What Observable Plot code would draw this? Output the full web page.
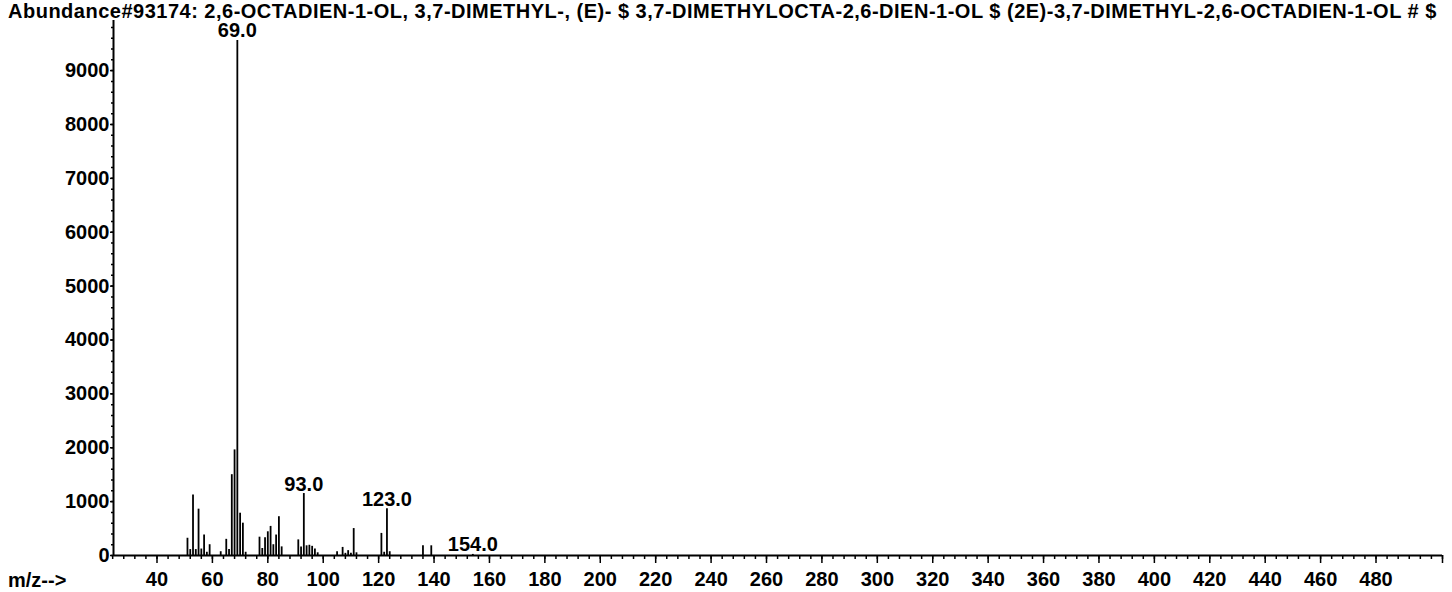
<!DOCTYPE html>
<html>
<head>
<meta charset="utf-8">
<script src="https://cdn.jsdelivr.net/npm/d3@7"></script>
<script src="https://cdn.jsdelivr.net/npm/@observablehq/plot@0.6"></script>
<style>
  html, body { margin: 0; padding: 0; background: #fff; }
  #wrap { position: relative; width: 1452px; height: 592px; overflow: hidden; background: #fff; }
  #title { position: relative; z-index: 2; font-family: "Liberation Sans", Arial, sans-serif; font-weight: bold; font-size: 20px; letter-spacing: 0.5px; line-height: 22px; height: 18px; white-space: nowrap; overflow: visible; padding-left: 8px; color: #000; }
  #chart { position: relative; z-index: 1; }
  #xlabel { position: absolute; left: 8px; top: 569px; font-family: "Liberation Sans", Arial, sans-serif; font-weight: bold; font-size: 20px; line-height: 22px; color: #000; }
</style>
</head>
<body>
<div id="wrap">
  <div id="title"></div>
  <div id="chart"></div>
  <div id="xlabel"></div>
</div>
<script>
const titleText = "Abundance#93174: 2,6-OCTADIEN-1-OL, 3,7-DIMETHYL-, (E)- $ 3,7-DIMETHYLOCTA-2,6-DIEN-1-OL $ (2E)-3,7-DIMETHYL-2,6-OCTADIEN-1-OL # $";
const xAxisLabel = "m/z-->";

const mz =        [51, 52, 53,   54,  55,  56,  57,  58, 59,  63, 65,  66,  67,   68,   69,   70,  71,  72, 77,  78,  79,  80,  81,  82,  83,  84,  85,  91,  92,  93,   94,  95,  96,  97,  98, 105, 107, 108, 109, 110, 111, 112, 121, 122, 123, 124, 136, 139, 154];
const abundance = [320, 110, 1125, 110, 860, 120, 380, 60, 200, 70, 300, 110, 1500, 1960, 9560, 785, 600, 60, 340, 130, 330, 440, 540, 200, 380, 720, 160, 290, 160, 1150, 180, 190, 170, 120, 50,  70,  150, 40,  90,  40,  500, 50,  410, 60,  870, 70,  180, 180, 20];
const labeledPeaks = [69, 93, 123, 154];
const xTickValues = [40, 60, 80, 100, 120, 140, 160, 180, 200, 220, 240, 260, 280, 300, 320, 340, 360, 380, 400, 420, 440, 460, 480, 504];
const yTickValues = [0, 1000, 2000, 3000, 4000, 5000, 6000, 7000, 8000, 9000];

const spectrum = mz.map((m, i) => ({mz: m, abundance: abundance[i]}));
const labels = spectrum.filter(d => labeledPeaks.includes(d.mz));

document.getElementById("title").textContent = titleText;
document.getElementById("xlabel").textContent = xAxisLabel;

const xMin = 24.3, xMax = 504, yMax = 9930;

const chart = Plot.plot({
  width: 1452,
  height: 574,
  marginLeft: 113,
  marginRight: 10,
  marginTop: 2,
  marginBottom: 37,
  x: {domain: [xMin, xMax]},
  y: {domain: [0, yMax]},
  style: {fontFamily: "'Liberation Sans', Arial, sans-serif", fontSize: "20px", fontWeight: "bold", color: "#000", background: "transparent", overflow: "visible"},
  marks: [
    Plot.axisY({ticks: d3.range(0, yMax, 200), tickSize: 2, tickFormat: () => "", label: null, strokeWidth: 1.5}),
    Plot.axisY({ticks: yTickValues, tickSize: 3, tickPadding: 1, tickFormat: d3.format("d"), label: null, strokeWidth: 1.5, fontWeight: "bold"}),
    Plot.axisX({ticks: d3.range(24, 505, 4), tickSize: 4, tickFormat: () => "", label: null, strokeWidth: 1.5}),
    Plot.axisX({ticks: xTickValues, tickSize: 8, tickPadding: 8, tickFormat: d => d === 504 ? "" : String(d), label: null, strokeWidth: 1.5, fontWeight: "bold"}),
    Plot.ruleY([0], {stroke: "#000", strokeWidth: 2.2}),
    Plot.ruleX([xMin], {y1: 0, y2: yMax, stroke: "#000", strokeWidth: 2}),
    Plot.ruleX(spectrum, {x: "mz", y: "abundance", stroke: "#000", strokeWidth: 1.8}),
    Plot.text(labels, {x: "mz", y: "abundance", text: d => d.mz.toFixed(1), lineAnchor: "bottom", dy: -3, fill: "#000", fontWeight: "bold", fontSize: 20})
  ]
});
document.getElementById("chart").appendChild(chart);
</script>
</body>
</html>
